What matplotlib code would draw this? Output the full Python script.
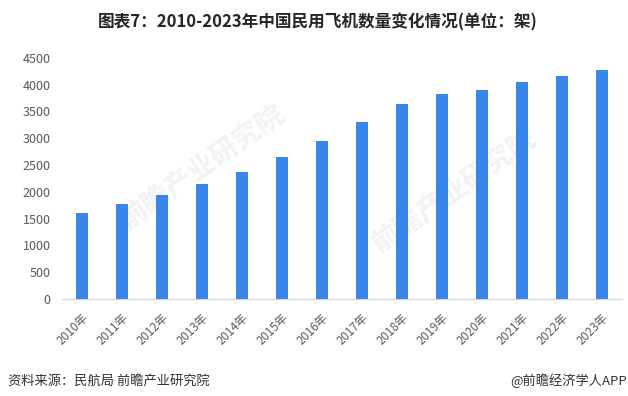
import matplotlib
matplotlib.use("Agg")
import matplotlib.pyplot as plt

plt.rcParams['font.family'] = ['Noto Sans CJK SC', 'DejaVu Sans']

years = ['2010年', '2011年', '2012年', '2013年', '2014年', '2015年', '2016年',
         '2017年', '2018年', '2019年', '2020年', '2021年', '2022年', '2023年']
planes = [1597, 1764, 1941, 2145, 2370, 2650, 2950,
          3296, 3639, 3818, 3903, 4054, 4165, 4270]
yticks = [0, 500, 1000, 1500, 2000, 2500, 3000, 3500, 4000, 4500]

BAR_COLOR = '#3A86E8'
TEXT_GRAY = '#595959'

fig = plt.figure(figsize=(6.28, 3.96), dpi=100)
ax = fig.add_axes([0.0987, 0.245, 0.892, 0.609])

x = list(range(len(years)))
ax.bar(x, planes, width=0.3, color=BAR_COLOR, zorder=3)

ax.set_xlim(-0.5, len(years) - 0.5)
ax.set_ylim(0, 4500)
ax.set_yticks(yticks)
ax.set_yticklabels([str(v) for v in yticks], fontsize=9, color=TEXT_GRAY)
ax.set_xticks(x)
ax.set_xticklabels(years, fontsize=8.5, color=TEXT_GRAY, rotation=45,
                   ha='right', va='top', rotation_mode='anchor')
ax.tick_params(axis='both', length=0)
ax.tick_params(axis='y', pad=8)
ax.tick_params(axis='x', pad=9)

for s in ['top', 'right', 'left']:
    ax.spines[s].set_visible(False)
ax.spines['bottom'].set_color('#d9d9d9')
ax.spines['bottom'].set_linewidth(1)

# faint watermarks behind the bars
for wx, wy in [(0.25, 0.55), (0.7, 0.45)]:
    ax.text(wx, wy, '前瞻产业研究院', transform=ax.transAxes, fontsize=20,
            color='#f1f2f5', rotation=35, ha='center', va='center',
            fontweight='bold', zorder=1)

fig.text(0.506, 0.944, '图表7：2010-2023年中国民用飞机数量变化情况(单位：架)',
         fontsize=12, fontweight='bold', color='#262626', ha='center', va='center')
fig.text(0.013, 0.038, '资料来源：民航局 前瞻产业研究院', fontsize=9.5,
         color='#333333', ha='left', va='center')
fig.text(0.998, 0.038, '@前瞻经济学人APP', fontsize=9.5,
         color='#333333', ha='right', va='center')

fig.savefig('out.png', dpi=100)
